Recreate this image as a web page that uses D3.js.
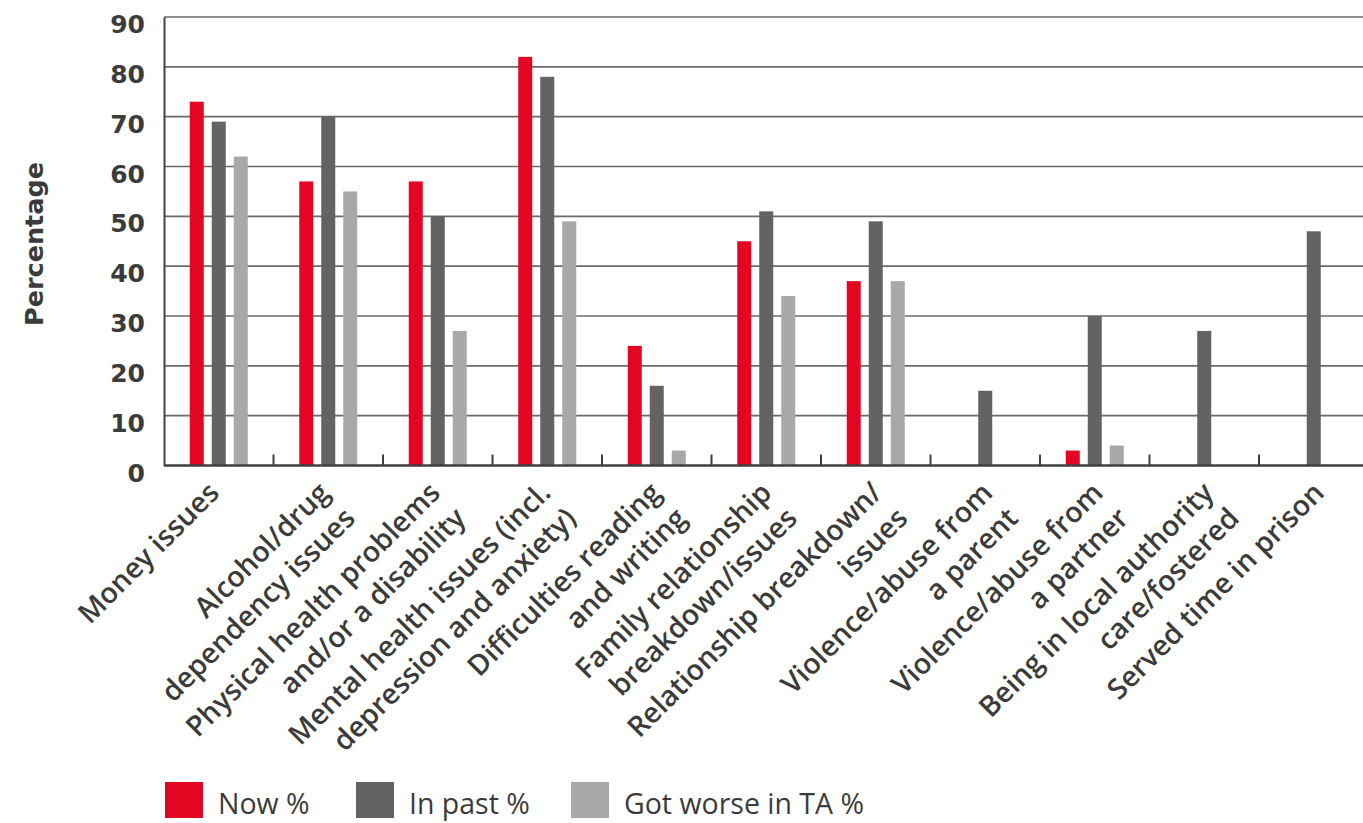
<!DOCTYPE html>
<html>
<head>
<meta charset="utf-8">
<script src="https://cdn.jsdelivr.net/npm/d3@7"></script>
<style>
  html, body { margin: 0; padding: 0; background: #ffffff; }
  svg { display: block; }
</style>
</head>
<body>
<svg id="chart" width="1363" height="823"></svg>
<script>
// ---- data ----
const categories = [
  "Money issues",
  "Alcohol/drug\ndependency issues",
  "Physical health problems\nand/or a disability",
  "Mental health issues (incl.\ndepression and anxiety)",
  "Difficulties reading\nand writing",
  "Family relationship\nbreakdown/issues",
  "Relationship breakdown/\nissues",
  "Violence/abuse from\na parent",
  "Violence/abuse from\na partner",
  "Being in local authority\ncare/fostered",
  "Served time in prison"
];
const seriesNames = ["Now %", "In past %", "Got worse in TA %"];
const nowPct   = [73, 57, 57, 82, 24, 45, 37, 0, 3, 0, 0];
const pastPct  = [69, 70, 50, 78, 16, 51, 49, 15, 30, 27, 47];
const worsePct = [62, 55, 27, 49, 3, 34, 37, 0, 4, 0, 0];
const yTicks = [0, 10, 20, 30, 40, 50, 60, 70, 80, 90];
const seriesColors = ["#e30521", "#636363", "#a8a8a8"];

const seriesValues = [nowPct, pastPct, worsePct];

// ---- layout ----
const svg = d3.select("#chart");
const plotLeft = 164, plotRight = 1368.5, plotTop = 17, plotBottom = 465.5;

const x = d3.scaleBand().domain(categories).range([plotLeft, plotRight]).padding(0);
const xs = d3.scaleBand().domain(seriesNames).range([-33, 33])
  .paddingInner(8 / 22).paddingOuter(4 / 22);
const y = d3.scaleLinear().domain([0, 90]).range([plotBottom, plotTop]);

const textColor = "#3b3b3b";

// gridlines
svg.append("g")
  .selectAll("line")
  .data(yTicks.filter(d => d > 0))
  .join("line")
  .attr("x1", plotLeft).attr("x2", 1363)
  .attr("y1", d => y(d)).attr("y2", d => y(d))
  .attr("stroke", "#6a6a6a").attr("stroke-width", 1.7);

// y axis
const yAxis = d3.axisLeft(y).tickValues(yTicks).tickSize(0).tickPadding(19);
const yg = svg.append("g").attr("transform", `translate(${plotLeft},0)`).call(yAxis);
yg.select(".domain").attr("stroke", "#444").attr("stroke-width", 2);
yg.selectAll("text")
  .attr("dy", "0.62em")
  .attr("font-family", "DejaVu Sans")
  .attr("font-weight", "bold")
  .attr("font-size", 25)
  .attr("fill", textColor);

// bars
const groups = svg.append("g").selectAll("g")
  .data(categories)
  .join("g")
  .attr("transform", d => `translate(${x(d) + x.bandwidth() / 2},0)`);

groups.selectAll("rect")
  .data((c, i) => seriesNames.map((s, k) => ({ s, v: seriesValues[k][i], k })))
  .join("rect")
  .attr("x", d => xs(d.s))
  .attr("width", xs.bandwidth())
  .attr("y", d => y(d.v))
  .attr("height", d => plotBottom - y(d.v))
  .attr("fill", d => seriesColors[d.k]);

// x axis baseline and boundary ticks
const xg = svg.append("g");
xg.append("line")
  .attr("x1", plotLeft).attr("x2", 1363)
  .attr("y1", plotBottom).attr("y2", plotBottom)
  .attr("stroke", "#3f3f3f").attr("stroke-width", 2.5);
xg.selectAll("line.tick")
  .data(categories.slice(1))
  .join("line")
  .attr("class", "tick")
  .attr("x1", d => x(d)).attr("x2", d => x(d))
  .attr("y1", plotBottom).attr("y2", plotBottom - 11)
  .attr("stroke", "#3f3f3f").attr("stroke-width", 2);

// category labels (rotated)
const lineH = 36;
const labels = svg.append("g").selectAll("text")
  .data(categories)
  .join("text")
  .attr("transform", (d, i) => `translate(${x(d) + x.bandwidth() / 2 + 2 + i * 1.0},${plotBottom + 29}) rotate(-45)`)
  .attr("text-anchor", "end")
  .attr("font-family", "Open Sans")
  .attr("font-weight", 600)
  .attr("font-size", 28.5)
  .attr("fill", textColor);
labels.selectAll("tspan")
  .data(d => d.split("\n"))
  .join("tspan")
  .attr("x", 0)
  .attr("dy", (d, i) => i === 0 ? 0 : lineH)
  .text(d => d);

// y axis title
svg.append("text")
  .attr("transform", `translate(43,244) rotate(-90)`)
  .attr("text-anchor", "middle")
  .attr("font-family", "DejaVu Sans")
  .attr("font-weight", "bold")
  .attr("font-size", 25.5)
  .attr("fill", textColor)
  .text("Percentage");

// legend
const legendX = [165, 356, 571];
const legend = svg.append("g").selectAll("g")
  .data(seriesNames)
  .join("g")
  .attr("transform", (d, i) => `translate(${legendX[i]},782)`);
legend.append("rect")
  .attr("width", 38).attr("height", 36)
  .attr("fill", (d, i) => seriesColors[i]);
legend.append("text")
  .attr("x", 53).attr("y", 32)
  .attr("font-family", "Open Sans")
  .attr("font-size", 28.5)
  .attr("fill", textColor)
  .text(d => d);
</script>
</body>
</html>
